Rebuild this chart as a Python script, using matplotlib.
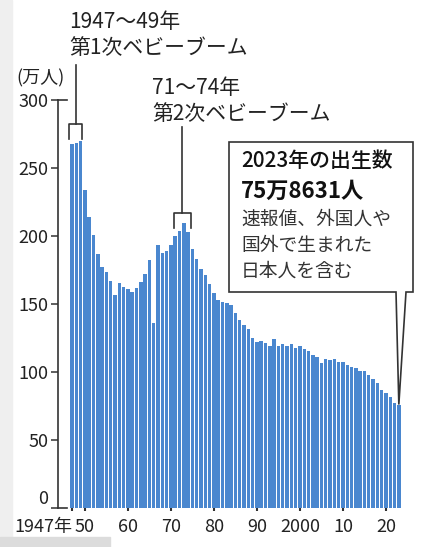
import numpy as np
import matplotlib
matplotlib.use('Agg')
import matplotlib.pyplot as plt
from matplotlib.patches import Polygon, Rectangle

plt.rcParams['font.family'] = ['Noto Sans CJK JP', 'DejaVu Sans']

# births in Japan, 10k persons (万人)
years = list(range(1947, 2024))
births = [267.9, 268.2, 269.7, 233.8, 213.8, 200.5, 186.8, 177.0, 173.1, 166.5,
          156.7, 165.3, 162.6, 160.6, 158.9, 161.9, 166.0, 171.7, 182.4, 136.1,
          193.6, 187.2, 188.9, 193.4, 200.1, 203.9, 209.2, 203.0, 190.1, 183.3,
          175.5, 170.9, 164.3, 157.7, 152.9, 151.5, 150.9, 149.0, 143.2, 138.3,
          134.7, 131.4, 124.7, 122.2, 122.3, 120.9, 118.8, 123.8, 118.7, 120.7,
          119.2, 120.3, 117.8, 119.1, 117.1, 115.4, 112.4, 111.1, 106.3, 109.3,
          109.0, 109.1, 107.0, 107.1, 105.1, 103.7, 103.0, 100.4, 100.6, 97.7,
          94.6, 91.8, 86.5, 84.1, 81.2, 77.1, 75.9]
yticks = [0, 50, 100, 150, 200, 250, 300]
xticks = [1947, 1950, 1960, 1970, 1980, 1990, 2000, 2010, 2020]
xlabels = ['1947年', '50', '60', '70', '80', '90', '2000', '10', '20']

W, H = 422, 547
def fx(p): return p / W
def fy(p): return 1 - p / H

blue = '#4a87cf'
dark = '#333333'

fig = plt.figure(figsize=(4.22, 5.47), dpi=100)
fig.patches.append(Rectangle((0, 0), fx(12), 1, transform=fig.transFigure,
                             color='#efefef', zorder=0))
fig.patches.append(Rectangle((0, 0), fx(110), 10 / H, transform=fig.transFigure,
                             color='#dcdcdc', zorder=0))

ax = fig.add_axes([fx(58), fy(507.7), fx(404) - fx(58), fy(100) - fy(507.7)])
ax.bar(years, births, width=0.8, color=blue, zorder=2)
ax.set_xlim(1943.75, 2024.2)
ax.set_ylim(0, 300)

for s in ['top', 'right', 'bottom']:
    ax.spines[s].set_visible(False)
ax.spines['left'].set_color(dark)
ax.spines['left'].set_linewidth(1.2)
ax.set_yticks(yticks)
ax.set_yticklabels([str(v) for v in yticks], fontsize=13, color='#222222')
ax.tick_params(axis='y', length=5, width=1.1, color=dark, pad=2)
ax.get_yticklabels()[0].set_verticalalignment('bottom')
ax.set_xticks(xticks)
ax.set_xticklabels(xlabels, fontsize=13, color='#222222')
ax.tick_params(axis='x', length=2.5, width=1.5, color=dark, pad=5)
ax.get_xticklabels()[0].set_horizontalalignment('right')
ax.get_xticklabels()[0].set_x(1947.6)
# corners of the axis line
ax.plot([0, 9 / 346], [1, 1], transform=ax.transAxes, color=dark, lw=1.2, clip_on=False)
ax.plot([0, 9 / 346], [0, 0], transform=ax.transAxes, color=dark, lw=1.2, clip_on=False)

fig.text(fx(16), fy(78), '(万人)', fontsize=13, va='center', ha='left', color='#222222')

# baby boom brackets
def bracket(x0, x1, ytop, ybot, xline, yline):
    ax.plot([x0, x0, x1, x1], [ybot, ytop, ytop, ybot], color=dark, lw=1.2, clip_on=False)
    ax.plot([xline, xline], [ytop, yline], color=dark, lw=1.2, clip_on=False)

bracket(1946.3, 1949.3, 282, 271, 1947.95, 326)
bracket(1970.7, 1974.7, 217, 205.5, 1972.6, 280)

fig.text(fx(69), fy(22), '1947～49年', fontsize=15, va='center', ha='left', color='#222222')
fig.text(fx(69), fy(48), '第1次ベビーブーム', fontsize=15, va='center', ha='left', color='#222222')
fig.text(fx(152), fy(88), '71～74年', fontsize=15, va='center', ha='left', color='#222222')
fig.text(fx(152), fy(114), '第2次ベビーブーム', fontsize=15, va='center', ha='left', color='#222222')

# callout box
fig.canvas.draw()
tip = ax.transData.transform((years[-1], births[-1]))
tx, ty = fig.transFigure.inverted().transform(tip)
pts = [(fx(229), fy(142)), (fx(413), fy(142)), (fx(413), fy(292)), (fx(406), fy(292)),
       (tx, ty), (fx(396), fy(292)), (fx(229), fy(292))]
fig.patches.append(Polygon(pts, closed=True, transform=fig.transFigure, facecolor='white',
                           edgecolor=dark, lw=1.2, zorder=5))
fig.text(fx(241), fy(161), '2023年の出生数', fontsize=15, fontweight='medium', va='center',
         ha='left', color='#111111', zorder=6)
fig.text(fx(241), fy(191), '75万8631人', fontsize=16, fontweight='bold', va='center',
         ha='left', color='#111111', zorder=6)
for i, line in enumerate(['速報値、外国人や', '国外で生まれた', '日本人を含む']):
    fig.text(fx(241), fy(219 + 26 * i), line, fontsize=13.5, va='center', ha='left',
             color='#333333', zorder=6)

plt.savefig('out.png', dpi=100)
